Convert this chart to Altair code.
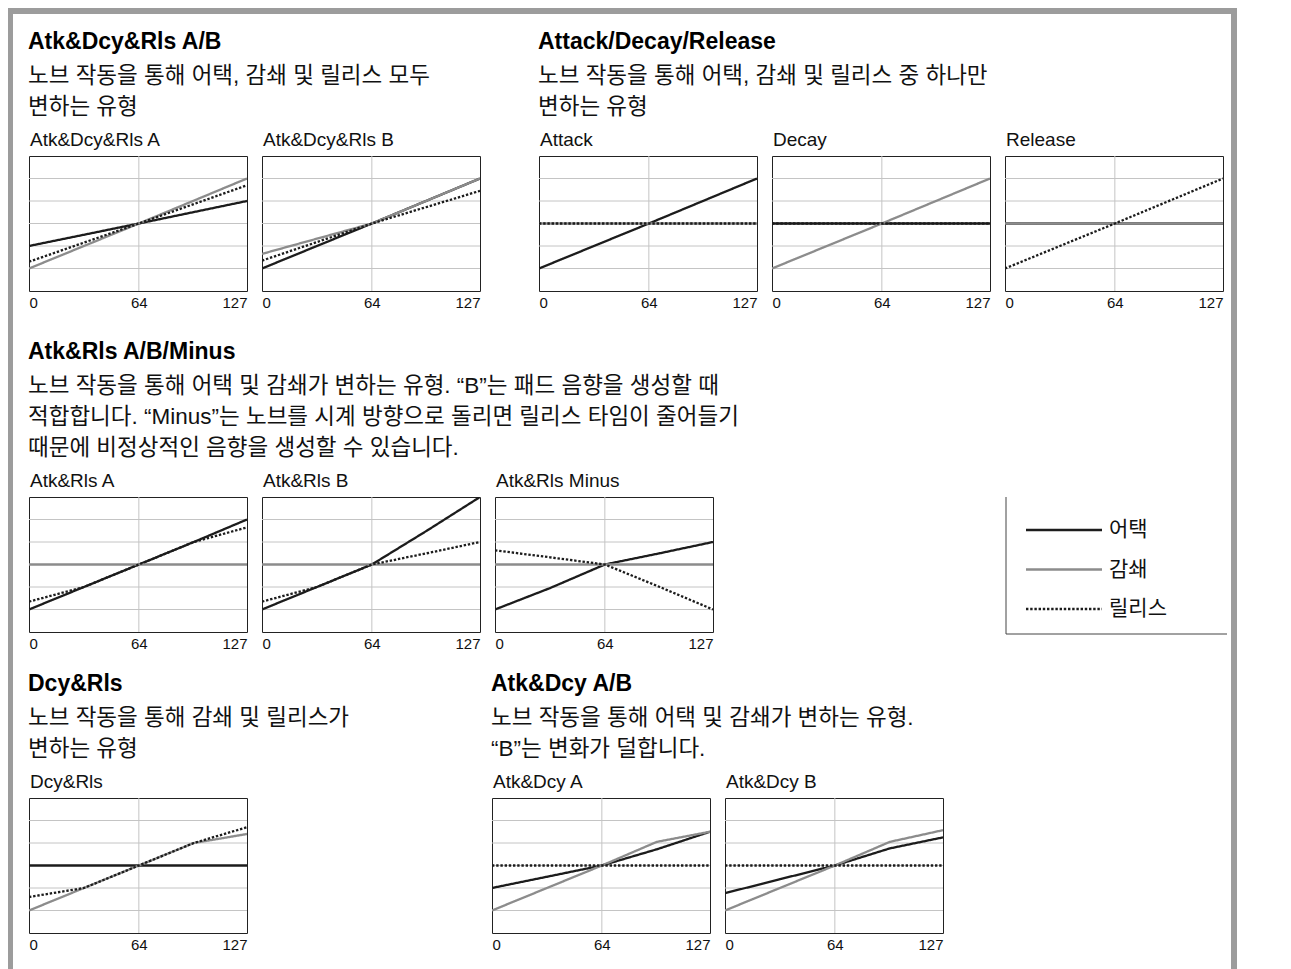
import altair as alt
import pandas as pd

FONT = "Liberation Sans"
KFONT = "Liberation Sans, Noto Sans CJK KR"

SERIES = ["어택", "감쇄", "릴리스"]
COLORS = ["#1c1c1c", "#8c8c8c", "#1c1c1c"]
DASHES = [[1, 0], [1, 0], [2.4, 1.8]]

X_TICKS = [0, 64, 127]
GRID_X = [64]
GRID_Y = [1, 2, 3, 4, 5]

X3 = [0, 64, 127]
X5 = [0, 32, 64, 96, 127]

# Row 1 — Atk&Dcy&Rls A/B
adr_a_atk = [2, 3, 4]
adr_a_dcy = [1, 3, 5]
adr_a_rls = [1.3, 3, 4.7]
adr_b_atk = [1, 3, 5]
adr_b_dcy = [1.65, 3, 5]
adr_b_rls = [1.35, 3, 4.45]
# Row 1 — Attack/Decay/Release
att_atk = [1, 3, 5]
att_dcy = [3, 3, 3]
att_rls = [3, 3, 3]
dec_atk = [3, 3, 3]
dec_dcy = [1, 3, 5]
dec_rls = [3, 3, 3]
rel_atk = [3, 3, 3]
rel_dcy = [3, 3, 3]
rel_rls = [1, 3, 5]
# Row 2 — Atk&Rls A/B/Minus
ar_a_atk = [1, 2, 3, 4, 5]
ar_a_dcy = [3, 3, 3, 3, 3]
ar_a_rls = [1.35, 2, 3, 4, 4.65]
ar_b_atk = [1, 2, 3, 4.5, 6]
ar_b_dcy = [3, 3, 3, 3, 3]
ar_b_rls = [1.35, 2, 3, 3.5, 4]
ar_m_atk = [1, 1.95, 3, 3.5, 4]
ar_m_dcy = [3, 3, 3, 3, 3]
ar_m_rls = [3.63, 3.32, 3, 2, 1]
# Row 3 — Dcy&Rls
dr_atk = [3, 3, 3, 3, 3]
dr_dcy = [1, 2, 3, 4, 4.4]
dr_rls = [1.6, 2, 3, 4, 4.7]
# Row 3 — Atk&Dcy A/B
ad_a_atk = [2, 2.5, 3, 3.72, 4.5]
ad_a_dcy = [1, 2, 3, 4.05, 4.5]
ad_a_rls = [3, 3, 3, 3, 3]
ad_b_atk = [1.77, 2.39, 3, 3.76, 4.25]
ad_b_dcy = [1, 2, 3, 4.05, 4.57]
ad_b_rls = [3, 3, 3, 3, 3]

HEAD1 = "Atk&Dcy&Rls A/B"
SUB1 = ["노브 작동을 통해 어택, 감쇄 및 릴리스 모두", "변하는 유형"]
HEAD2 = "Attack/Decay/Release"
SUB2 = ["노브 작동을 통해 어택, 감쇄 및 릴리스 중 하나만", "변하는 유형"]
HEAD3 = "Atk&Rls A/B/Minus"
SUB3 = ["노브 작동을 통해 어택 및 감쇄가 변하는 유형. “B”는 패드 음향을 생성할 때",
        "적합합니다. “Minus”는 노브를 시계 방향으로 돌리면 릴리스 타임이 줄어들기",
        "때문에 비정상적인 음향을 생성할 수 있습니다."]
HEAD4 = "Dcy&Rls"
SUB4 = ["노브 작동을 통해 감쇄 및 릴리스가", "변하는 유형"]
HEAD5 = "Atk&Dcy A/B"
SUB5 = ["노브 작동을 통해 어택 및 감쇄가 변하는 유형.", "“B”는 변화가 덜합니다."]

PW, PH = 218, 135
GAP = 13
GRID_C = "#c4c4c4"
FRAME_C = "#9c9c9c"

xscale = alt.Scale(domain=[0, 127], nice=False, zero=False)
yscale = alt.Scale(domain=[0, 6], nice=False, zero=False)
xaxis = alt.Axis(values=X_TICKS, labelFlush=True, grid=False, domain=False, ticks=False,
                 labelPadding=4, labelFontSize=15, title=None, labelColor="#111", labelFont=FONT)


def panel(title, xs, atk, dcy, rls):
    rows = []
    for name, vals in zip(SERIES, [atk, dcy, rls]):
        for x, y in zip(xs, vals):
            rows.append({"series": name, "x": x, "y": y})
    df = pd.DataFrame(rows)
    gx = alt.Chart(pd.DataFrame({"x": GRID_X})).mark_rule(color=GRID_C, strokeWidth=1).encode(
        x=alt.X("x:Q", scale=xscale, axis=xaxis))
    gy = alt.Chart(pd.DataFrame({"y": GRID_Y})).mark_rule(color=GRID_C, strokeWidth=1).encode(
        y=alt.Y("y:Q", scale=yscale, axis=None))
    layers = [gx, gy]
    for name, color, dash in zip(SERIES, COLORS, DASHES):
        layers.append(
            alt.Chart(df).transform_filter(alt.datum.series == name)
            .mark_line(color=color, strokeDash=dash, strokeWidth=2.3, clip=True)
            .encode(x=alt.X("x:Q", scale=xscale, axis=xaxis),
                    y=alt.Y("y:Q", scale=yscale, axis=None))
        )
    return alt.layer(*layers).properties(
        width=PW, height=PH,
        title=alt.TitleParams(title, anchor="start", fontSize=19, fontWeight="normal",
                              font=FONT, color="#111", offset=6, dx=1, frame="group"))


def group_title(head, sub):
    return alt.TitleParams(head, subtitle=sub, anchor="start", fontSize=23, fontWeight="bold",
                           font=FONT, color="#000", subtitleFont=KFONT, subtitleFontSize=22.5,
                           subtitleColor="#111", subtitleLineHeight=31, subtitlePadding=11,
                           offset=12)


def blank(w, h, fill=None):
    view = alt.ViewBackground(fill=fill, strokeWidth=0) if fill else alt.ViewBackground(strokeWidth=0)
    return alt.Chart(pd.DataFrame({"a": [0]})).mark_point(size=0, opacity=0).properties(
        width=w, height=h, view=view)


# legend
LW, LH = 221, 137
leg_df = pd.DataFrame({"series": SERIES})
yleg = alt.Y("series:N", scale=alt.Scale(domain=SERIES, type="point", range=[33, 112], padding=0),
             axis=None)
samples = alt.Chart(leg_df).mark_rule(strokeWidth=2.3).encode(
    x=alt.value(20), x2=alt.value(96), y=yleg,
    color=alt.Color("series:N", scale=alt.Scale(domain=SERIES, range=COLORS), legend=None),
    strokeDash=alt.StrokeDash("series:N", scale=alt.Scale(domain=SERIES, range=DASHES), legend=None))
labels = alt.Chart(leg_df).mark_text(align="left", baseline="middle", fontSize=21, font=KFONT,
                                     color="#111").encode(x=alt.value(103), y=yleg, text="series:N")
one = pd.DataFrame({"a": [0]})
lline = alt.Chart(one).mark_rule(color="#444", strokeWidth=1).encode(
    x=alt.value(0), y=alt.value(0), y2=alt.value(LH))
bline = alt.Chart(one).mark_rule(color="#444", strokeWidth=1).encode(
    x=alt.value(0), x2=alt.value(LW), y=alt.value(LH))
legend = alt.layer(samples, labels, lline, bline).properties(
    width=LW, height=LH, view=alt.ViewBackground(strokeWidth=0),
    title=alt.TitleParams(" ", anchor="start", fontSize=19, offset=6, frame="group"))

row1 = alt.hconcat(
    alt.hconcat(panel("Atk&Dcy&Rls A", X3, adr_a_atk, adr_a_dcy, adr_a_rls),
                panel("Atk&Dcy&Rls B", X3, adr_b_atk, adr_b_dcy, adr_b_rls),
                spacing=GAP).properties(title=group_title(HEAD1, SUB1)),
    alt.hconcat(panel("Attack", X3, att_atk, att_dcy, att_rls),
                panel("Decay", X3, dec_atk, dec_dcy, dec_rls),
                panel("Release", X3, rel_atk, rel_dcy, rel_rls),
                spacing=GAP).properties(title=group_title(HEAD2, SUB2)),
    spacing=57)

row2 = alt.hconcat(
    alt.hconcat(panel("Atk&Rls A", X5, ar_a_atk, ar_a_dcy, ar_a_rls),
                panel("Atk&Rls B", X5, ar_b_atk, ar_b_dcy, ar_b_rls),
                panel("Atk&Rls Minus", X5, ar_m_atk, ar_m_dcy, ar_m_rls),
                spacing=GAP),
    legend, spacing=291).properties(title=group_title(HEAD3, SUB3))

row3 = alt.hconcat(
    alt.hconcat(panel("Dcy&Rls", X5, dr_atk, dr_dcy, dr_rls)).properties(
        title=group_title(HEAD4, SUB4)),
    alt.hconcat(panel("Atk&Dcy A", X5, ad_a_atk, ad_a_dcy, ad_a_rls),
                panel("Atk&Dcy B", X5, ad_b_atk, ad_b_dcy, ad_b_rls),
                spacing=GAP).properties(title=group_title(HEAD5, SUB5)),
    spacing=141)

content = alt.vconcat(alt.vconcat(row1, row2, spacing=29), row3, spacing=20)
inner = alt.vconcat(blank(1, 1), content, spacing=15)
body = alt.hconcat(blank(5, 955, FRAME_C),
                   alt.hconcat(inner, blank(6, 955, FRAME_C), spacing=3),
                   spacing=15)
chart = alt.vconcat(blank(1229, 6, FRAME_C), body, spacing=0).properties(
    padding=0, background="white"
).configure(font=FONT).configure_view(stroke="#222", strokeWidth=1)

chart.save("out.html", embed_options={"renderer": "svg", "actions": False})
